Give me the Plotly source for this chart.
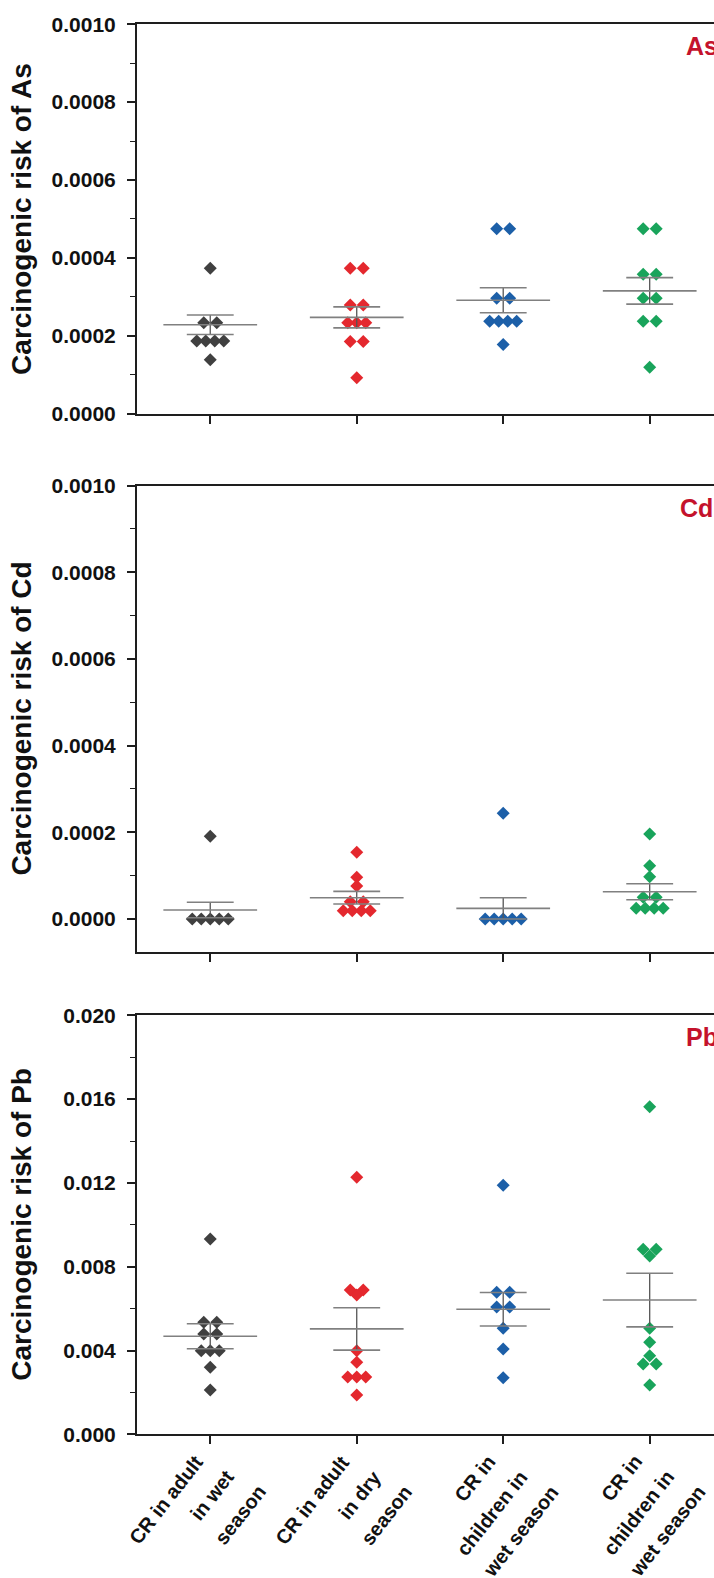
import plotly.graph_objects as go

# ---------------- data ----------------
category_lines = [["CR in adult", "in wet", "season"],
                  ["CR in adult", "in dry", "season"],
                  ["CR in", "children in", "wet season"],
                  ["CR in", "children in", "wet season"]]

# As
as_adult_wet = [0.000373, 0.000233, 0.000233, 0.000186, 0.000186, 0.000186, 0.000186, 0.000138]
as_adult_dry = [0.000373, 0.000373, 0.000279, 0.000279, 0.000233, 0.000233, 0.000233, 0.000185, 0.000185, 0.000092]
as_child_wet = [0.000475, 0.000475, 0.000296, 0.000296, 0.000237, 0.000237, 0.000237, 0.000237, 0.000177]
as_child_wet2 = [0.000475, 0.000475, 0.000358, 0.000358, 0.000296, 0.000296, 0.000237, 0.000237, 0.000119]
as_mean = [0.000228, 0.000247, 0.000291, 0.000315]
as_se = [0.000025, 0.000027, 0.000032, 0.000034]

# Cd
cd_adult_wet = [0.000191, 0.0, 0.0, 0.0, 0.0, 0.0]
cd_adult_dry = [0.000154, 0.0000962, 0.0000761, 0.000040, 0.000040, 0.0000192, 0.0000192, 0.0000192, 0.0000192]
cd_child_wet = [0.000244, 0.0, 0.0, 0.0, 0.0, 0.0]
cd_child_wet2 = [0.000196, 0.000123, 0.0000976, 0.000050, 0.000050, 0.0000246, 0.0000246, 0.0000246, 0.0000246]
cd_mean = [0.0000208, 0.0000492, 0.0000246, 0.0000630]
cd_se = [0.0000180, 0.0000146, 0.0000244, 0.0000185]

# Pb
pb_adult_wet = [0.00932, 0.00535, 0.00535, 0.00479, 0.00479, 0.00399, 0.00399, 0.00399, 0.00320, 0.00211]
pb_adult_dry = [0.01227, 0.00689, 0.00689, 0.00665, 0.00399, 0.00344, 0.00274, 0.00274, 0.00274, 0.00188]
pb_child_wet = [0.01189, 0.00678, 0.00678, 0.00608, 0.00608, 0.00506, 0.00407, 0.00270]
pb_child_wet2 = [0.01564, 0.00883, 0.00883, 0.00851, 0.00506, 0.00439, 0.00375, 0.00336, 0.00336, 0.00235]
pb_mean = [0.00468, 0.00503, 0.00597, 0.00641]
pb_se = [0.00060, 0.00101, 0.00080, 0.00128]

element_labels = ["As", "Cd", "Pb"]
y_titles = ["Carcinogenic risk of As", "Carcinogenic risk of Cd", "Carcinogenic risk of Pb"]

# ---------------- style / layout ----------------
colors = ["#404040", "#e4282e", "#1c5fa8", "#19a45b"]
W, H = 714, 1578
L = 137                      # left edge of plot area (px)
X_RANGE = [-0.5, 3.439]
PX_PER_CAT = (W - L) / (X_RANGE[1] - X_RANGE[0])
panels_px = [(24.3, 413.5), (485.5, 951.7), (1015.3, 1434.3)]
y_ranges = [[0, 0.001], [-0.0000754, 0.001], [0, 0.02]]
dticks = [0.0002, 0.0002, 0.004]
tformats = [".4f", ".4f", ".3f"]
label_right_px = [W + 6, W + 1, W + 6]
FONT = "Liberation Sans, Arial, sans-serif"
AXC = "#1e1e1e"
XLAB_ANGLE = -52

panels = [
    ([as_adult_wet, as_adult_dry, as_child_wet, as_child_wet2], as_mean, as_se),
    ([cd_adult_wet, cd_adult_dry, cd_child_wet, cd_child_wet2], cd_mean, cd_se),
    ([pb_adult_wet, pb_adult_dry, pb_child_wet, pb_child_wet2], pb_mean, pb_se),
]


def swarm_offsets(vals):
    """place equal values side by side (beeswarm style), in category units"""
    offs = [0.0] * len(vals)
    groups = {}
    for i, v in enumerate(vals):
        groups.setdefault(round(v, 9), []).append(i)
    for idx in groups.values():
        k = len(idx)
        sp = 13.0 if k <= 2 else 9.0
        for j, i in enumerate(idx):
            offs[i] = (j - (k - 1) / 2) * sp / PX_PER_CAT
    return offs


fig = go.Figure()
annotations = []

for p, (groups, means, ses) in enumerate(panels):
    xa = "x" if p == 0 else f"x{p+1}"
    ya = "y" if p == 0 else f"y{p+1}"
    for g, vals in enumerate(groups):
        offs = swarm_offsets(vals)
        fig.add_trace(go.Scatter(
            x=[g + o for o in offs], y=vals, mode="markers",
            marker=dict(symbol="diamond", size=10, color=colors[g], line=dict(width=0)),
            xaxis=xa, yaxis=ya, showlegend=False, hoverinfo="skip"))
    # mean and SE lines
    hx, hy, cx, cy, vx, vy = [], [], [], [], [], []
    for g in range(4):
        m, s = means[g], ses[g]
        hx += [g - 0.32, g + 0.32, None]
        hy += [m, m, None]
        cx += [g - 0.16, g + 0.16, None, g - 0.16, g + 0.16, None]
        cy += [m + s, m + s, None, m - s, m - s, None]
        vx += [g, g, None]
        vy += [m - s, m + s, None]
    fig.add_trace(go.Scatter(x=vx, y=vy, mode="lines", line=dict(color="#555555", width=1.3),
                             xaxis=xa, yaxis=ya, showlegend=False, hoverinfo="skip"))
    fig.add_trace(go.Scatter(x=hx, y=hy, mode="lines", line=dict(color="#808080", width=1.6),
                             xaxis=xa, yaxis=ya, showlegend=False, hoverinfo="skip"))
    fig.add_trace(go.Scatter(x=cx, y=cy, mode="lines", line=dict(color="#808080", width=1.6),
                             xaxis=xa, yaxis=ya, showlegend=False, hoverinfo="skip"))

    top, bot = panels_px[p]
    dom = [1 - bot / H, 1 - top / H]
    xkey = "xaxis" if p == 0 else f"xaxis{p+1}"
    ykey = "yaxis" if p == 0 else f"yaxis{p+1}"
    fig.update_layout(**{
        xkey: dict(domain=[0, 1], range=X_RANGE, anchor=ya, showline=True, linecolor=AXC,
                   linewidth=2, mirror=True, ticks="outside", ticklen=8, tickwidth=1.5,
                   tickcolor=AXC, tickvals=[0, 1, 2, 3], showticklabels=False,
                   showgrid=False, zeroline=False, automargin=False),
        ykey: dict(domain=dom, range=y_ranges[p], anchor=xa, showline=True, linecolor=AXC,
                   linewidth=2, mirror=False, ticks="outside", ticklen=8, tickwidth=1.5,
                   tickcolor=AXC, dtick=dticks[p], tick0=0, tickformat=tformats[p],
                   ticklabelstandoff=7,
                   showgrid=False, zeroline=False, automargin=False,
                   minor=dict(ticks="outside", ticklen=5, tickwidth=1.2, tickcolor=AXC,
                              dtick=dticks[p] / 2, tick0=0, showgrid=False),
                   tickfont=dict(family=FONT, size=21, color="#111111", weight="bold")),
    })
    # y title
    annotations.append(dict(
        text=y_titles[p], textangle=-90, xref="paper", yref="paper",
        x=(22 - L) / (W - L), y=1 - (top + bot) / 2 / H, xanchor="center", yanchor="middle",
        showarrow=False, font=dict(family=FONT, size=28, color="#111111", weight="bold")))
    # element label
    annotations.append(dict(
        text=element_labels[p], xref="paper", yref="paper",
        x=(label_right_px[p] - L) / (W - L), y=1 - (top + 22) / H, xanchor="right", yanchor="middle",
        showarrow=False, font=dict(family=FONT, size=25, color="#c4122c", weight="bold")))

# rotated category labels under the bottom panel, one annotation per text line
bottom_dom = 1 - panels_px[2][1] / H
for g, lines in enumerate(category_lines):
    for k, line in enumerate(lines):
        annotations.append(dict(
            text=line, textangle=XLAB_ANGLE, xref="x3", yref="paper",
            x=g, y=bottom_dom, xanchor="right", yanchor="top",
            xshift=-0.4 + 31.5 * k, yshift=-(14.1 + 15 * k),
            showarrow=False, font=dict(family=FONT, size=20, color="#111111", weight="bold")))

fig.update_layout(width=W, height=H, autosize=False,
                  margin=dict(l=L, r=0, t=0, b=0),
                  plot_bgcolor="white", paper_bgcolor="white",
                  showlegend=False, annotations=annotations)

fig.write_html("out.html",
               config={"displayModeBar": False},
               post_script="document.body.style.margin='0px';"
                           "document.documentElement.style.overflow='hidden';")
